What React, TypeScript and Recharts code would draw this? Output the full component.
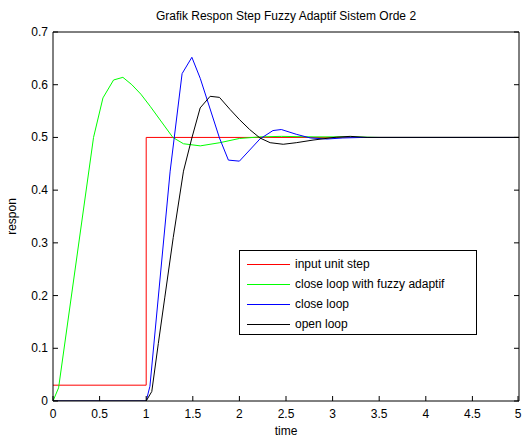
import { LineChart, Line, XAxis, YAxis, Legend, Label } from 'recharts';

const title = 'Grafik Respon Step Fuzzy Adaptif Sistem Orde 2';
const xTicks = [0, 0.5, 1, 1.5, 2, 2.5, 3, 3.5, 4, 4.5, 5];
const yTicks = [0, 0.1, 0.2, 0.3, 0.4, 0.5, 0.6, 0.7];

// input unit step
const inputStep = [
  { t: 0, v: 0.03 }, { t: 1, v: 0.03 }, { t: 1, v: 0.5 }, { t: 5, v: 0.5 },
];

// close loop with fuzzy adaptif
const fuzzyLoop = [
  { t: 0, v: 0 }, { t: 0.06, v: 0.025 }, { t: 0.435, v: 0.5 }, { t: 0.536, v: 0.575 },
  { t: 0.65, v: 0.609 }, { t: 0.75, v: 0.614 }, { t: 0.846, v: 0.6 }, { t: 0.943, v: 0.582 },
  { t: 1.043, v: 0.559 }, { t: 1.15, v: 0.533 }, { t: 1.286, v: 0.5 }, { t: 1.4, v: 0.488 },
  { t: 1.58, v: 0.484 }, { t: 1.79, v: 0.49 }, { t: 2.0, v: 0.498 }, { t: 2.22, v: 0.501 },
  { t: 2.45, v: 0.502 }, { t: 2.8, v: 0.501 }, { t: 3.2, v: 0.501 }, { t: 3.5, v: 0.5 },
  { t: 5, v: 0.5 },
];

// close loop
const closeLoop = [
  { t: 0, v: 0 }, { t: 1, v: 0 }, { t: 1.04, v: 0.028 }, { t: 1.257, v: 0.436 },
  { t: 1.385, v: 0.621 }, { t: 1.49, v: 0.652 }, { t: 1.58, v: 0.612 }, { t: 1.786, v: 0.499 },
  { t: 1.882, v: 0.457 }, { t: 2.0, v: 0.455 }, { t: 2.22, v: 0.497 }, { t: 2.36, v: 0.513 },
  { t: 2.45, v: 0.515 }, { t: 2.61, v: 0.506 }, { t: 2.76, v: 0.499 }, { t: 2.94, v: 0.497 },
  { t: 3.11, v: 0.499 }, { t: 3.33, v: 0.5 }, { t: 5, v: 0.5 },
];

// open loop
const openLoop = [
  { t: 0, v: 0 }, { t: 1, v: 0 }, { t: 1.06, v: 0.018 }, { t: 1.13, v: 0.109 },
  { t: 1.2, v: 0.197 }, { t: 1.29, v: 0.31 }, { t: 1.4, v: 0.436 }, { t: 1.49, v: 0.499 },
  { t: 1.579, v: 0.556 }, { t: 1.686, v: 0.578 }, { t: 1.786, v: 0.576 }, { t: 1.9, v: 0.553 },
  { t: 2.0, v: 0.534 }, { t: 2.11, v: 0.515 }, { t: 2.22, v: 0.499 }, { t: 2.33, v: 0.49 },
  { t: 2.47, v: 0.487 }, { t: 2.61, v: 0.49 }, { t: 2.79, v: 0.495 }, { t: 3.04, v: 0.5005 },
  { t: 3.19, v: 0.502 }, { t: 3.37, v: 0.5 }, { t: 5, v: 0.5 },
];

const series = [
  { name: 'input unit step', color: '#ff0000', data: inputStep },
  { name: 'close loop with fuzzy adaptif', color: '#00ff00', data: fuzzyLoop },
  { name: 'close loop', color: '#0000ff', data: closeLoop },
  { name: 'open loop', color: '#000000', data: openLoop },
];

const TICK = 5;

// ticks point inward, like matlab
const BottomTick = ({ x, y, payload }: any) => (
  <g>
    <line x1={x} y1={y} x2={x} y2={y - TICK} stroke="#000" />
    <text x={x} y={y + 17} textAnchor="middle" fontSize={12} fill="#000">{payload.value}</text>
  </g>
);
const LeftTick = ({ x, y, payload }: any) => (
  <g>
    <line x1={x} y1={y} x2={x + TICK} y2={y} stroke="#000" />
    <text x={x - 5} y={y + 4} textAnchor="end" fontSize={12} fill="#000">{payload.value}</text>
  </g>
);
const TopTick = ({ x, y }: any) => <line x1={x} y1={y} x2={x} y2={y + TICK} stroke="#000" />;
const RightTick = ({ x, y }: any) => <line x1={x} y1={y} x2={x - TICK} y2={y} stroke="#000" />;

const LegendBox = () => (
  <div style={{ border: '1px solid #000', background: '#fff', width: 238, height: 85, boxSizing: 'border-box', paddingTop: 3 }}>
    {series.map((s) => (
      <div key={s.name} style={{ display: 'flex', alignItems: 'center', height: 20 }}>
        <div style={{ marginLeft: 7, width: 43, height: 1, background: s.color }} />
        <span style={{ marginLeft: 5, fontSize: 12, color: '#000' }}>{s.name}</span>
      </div>
    ))}
  </div>
);

export default function App() {
  return (
    <div style={{ position: 'absolute', left: 0, top: 0, background: '#fff', fontFamily: '"Liberation Sans", Arial, sans-serif' }}>
      <LineChart width={522} height={441} margin={{ top: 31, right: 2, bottom: 39, left: 52 }}>
        <XAxis dataKey="t" type="number" domain={[0, 5]} ticks={xTicks} allowDataOverflow
          height={1} tickSize={0} tickMargin={0} tick={<BottomTick />} tickLine={false} stroke="#000">
          <Label content={({ viewBox }: any) => (
            <text x={viewBox.x + viewBox.width / 2} y={viewBox.y + 34} textAnchor="middle" fontSize={12} fill="#000">time</text>
          )} />
        </XAxis>
        <XAxis xAxisId="top" orientation="top" type="number" domain={[0, 5]} ticks={xTicks} allowDataOverflow
          height={1} tickSize={0} tickMargin={0} tick={<TopTick />} tickLine={false} stroke="#000">
          <Label content={({ viewBox }: any) => (
            <text x={viewBox.x + viewBox.width / 2} y={viewBox.y - 11} textAnchor="middle" fontSize={12} fill="#000">{title}</text>
          )} />
        </XAxis>
        <YAxis type="number" domain={[0, 0.7]} ticks={yTicks} allowDataOverflow
          width={1} tickSize={0} tickMargin={0} tick={<LeftTick />} tickLine={false} stroke="#000">
          <Label content={({ viewBox }: any) => {
            const cx = viewBox.x - 36;
            const cy = viewBox.y + viewBox.height / 2;
            return (
              <text x={cx} y={cy} transform={`rotate(-90 ${cx} ${cy})`} textAnchor="middle" fontSize={12} fill="#000">respon</text>
            );
          }} />
        </YAxis>
        <YAxis yAxisId="right" orientation="right" type="number" domain={[0, 0.7]} ticks={yTicks} allowDataOverflow
          width={1} tickSize={0} tickMargin={0} tick={<RightTick />} tickLine={false} stroke="#000" />
        <Legend layout="vertical" align="center" verticalAlign="middle" content={<LegendBox />}
          wrapperStyle={{ left: 239, top: 250, width: 238, height: 85 }} />
        {series.map((s) => (
          <Line key={s.name} data={s.data} dataKey="v" name={s.name} stroke={s.color} strokeWidth={1}
            dot={false} isAnimationActive={false} />
        ))}
      </LineChart>
    </div>
  );
}
